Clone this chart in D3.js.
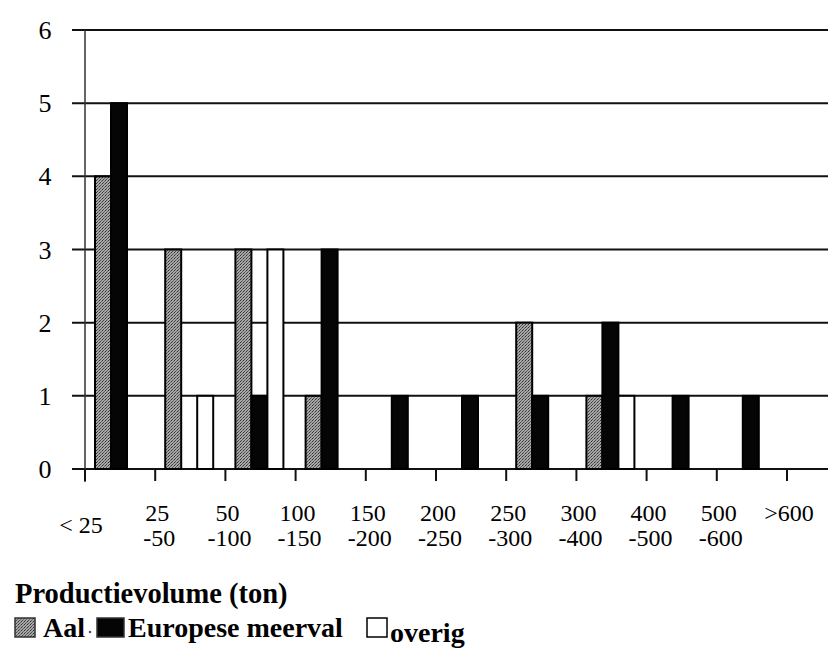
<!DOCTYPE html>
<html>
<head>
<meta charset="utf-8">
<script src="https://cdn.jsdelivr.net/npm/d3@7"></script>
<style>
body{margin:0;background:#fff;}
text{font-family:"Liberation Serif","Times New Roman",serif;fill:#000;}
</style>
</head>
<body>
<div id="chart"></div>
<script>
var categories=["< 25","25-50","50-100","100-150","150-200","200-250","250-300","300-400","400-500","500-600",">600"];
var labelTop=["< 25","25","50","100","150","200","250","300","400","500",">600"];
var labelBottom=["","-50","-100","-150","-200","-250","-300","-400","-500","-600",""];
var aal=[4,3,3,1,0,0,2,1,0,0,0];
var meerval=[5,0,1,3,1,1,1,2,1,1,0];
var overig=[0,1,3,0,0,0,0,1,0,0,0];
var seriesNames=["Aal","Europese meerval","overig"];
var yTicks=[0,1,2,3,4,5,6];

var width=828,height=651;
var plotLeft=85,plotTop=30,plotBottom=469,catWidth=70.2;

var svg=d3.select("#chart").append("svg").attr("width",width).attr("height",height);

// halftone-ish fill for Aal
var pat=svg.append("defs").append("pattern").attr("id","aalPat")
	.attr("patternUnits","userSpaceOnUse").attr("width",3).attr("height",3);
pat.append("rect").attr("width",3).attr("height",3).attr("fill","#a6a6a6");
pat.append("rect").attr("x",0).attr("y",0).attr("width",1).attr("height",1).attr("fill","#303030");
pat.append("rect").attr("x",1).attr("y",2).attr("width",1).attr("height",1).attr("fill","#4a4a4a");
pat.append("rect").attr("x",2).attr("y",1).attr("width",1).attr("height",1).attr("fill","#666");

var fills={"Aal":"url(#aalPat)","Europese meerval":"#050505","overig":"#fff"};

var x=d3.scaleBand().domain(categories).range([plotLeft,plotLeft+categories.length*catWidth]).padding(0);
var xs=d3.scaleBand().domain(seriesNames).range([10,58]).padding(0);
var y=d3.scaleLinear().domain([0,6]).range([plotBottom,plotTop]);

// gridlines
svg.append("g").selectAll("line").data(yTicks).enter().append("line")
	.attr("x1",72).attr("x2",width)
	.attr("y1",function(d){return y(d);}).attr("y2",function(d){return y(d);})
	.attr("stroke","#111").attr("stroke-width",2);

// y axis line
svg.append("line").attr("x1",plotLeft).attr("x2",plotLeft).attr("y1",plotTop).attr("y2",plotBottom+13)
	.attr("stroke","#333").attr("stroke-width",1.5);

// x ticks on category boundaries
svg.append("g").selectAll("line").data(categories).enter().append("line")
	.attr("x1",function(d){return x(d);}).attr("x2",function(d){return x(d);})
	.attr("y1",plotBottom).attr("y2",plotBottom+12)
	.attr("stroke","#111").attr("stroke-width",2);

var bars=[];
for(var i=0;i<categories.length;i++){
	var vals=[aal[i],meerval[i],overig[i]];
	for(var s=0;s<3;s++){
		if(vals[s]>0) bars.push({cat:categories[i],series:seriesNames[s],value:vals[s]});
	}
}

svg.append("g").selectAll("rect").data(bars).enter().append("rect")
	.attr("x",function(d){return x(d.cat)+xs(d.series);})
	.attr("y",function(d){return y(d.value);})
	.attr("width",xs.bandwidth())
	.attr("height",function(d){return y(0)-y(d.value);})
	.attr("fill",function(d){return fills[d.series];})
	.attr("stroke","#000").attr("stroke-width",2);

// y labels
svg.append("g").selectAll("text").data(yTicks).enter().append("text")
	.attr("x",45).attr("y",function(d){return y(d)+9;})
	.attr("text-anchor","middle").attr("font-size",26)
	.text(function(d){return d;});

// x labels, two rows, centred on the left tick of each class
var xl=svg.append("g");
xl.selectAll("text.top").data(categories).enter().append("text")
	.attr("class","top")
	.attr("x",function(d,i){return i==0?x(d)-4:x(d)+2;})
	.attr("y",function(d,i){return i==0?533:521;})
	.attr("text-anchor","middle").attr("font-size",24)
	.text(function(d,i){return labelTop[i];});
xl.selectAll("text.bot").data(categories).enter().append("text")
	.attr("class","bot")
	.attr("x",function(d){return x(d)+4;})
	.attr("y",546)
	.attr("text-anchor","middle").attr("font-size",24)
	.text(function(d,i){return labelBottom[i];});

svg.append("text").attr("x",15).attr("y",603)
	.attr("font-size",28.5).attr("font-weight","bold")
	.text("Productievolume (ton)");

// legend
var legX=[15,97,367];
var legTextX=[43,128,390];
var leg=svg.append("g").selectAll("g").data(seriesNames).enter().append("g");
leg.append("rect")
	.attr("x",function(d,i){return legX[i];}).attr("y",618)
	.attr("width",function(d,i){return i==1?27:20;}).attr("height",19)
	.attr("fill",function(d){return fills[d];})
	.attr("stroke",function(d,i){return i==2?"#000":"#333";}).attr("stroke-width",1.5);
leg.append("text")
	.attr("x",function(d,i){return legTextX[i];})
	.attr("y",function(d,i){return i==2?642:637;})
	.attr("font-size",28).attr("font-weight","bold")
	.text(function(d){return d;});
svg.append("circle").attr("cx",90).attr("cy",632).attr("r",1.2).attr("fill","#444");
</script>
</body>
</html>
